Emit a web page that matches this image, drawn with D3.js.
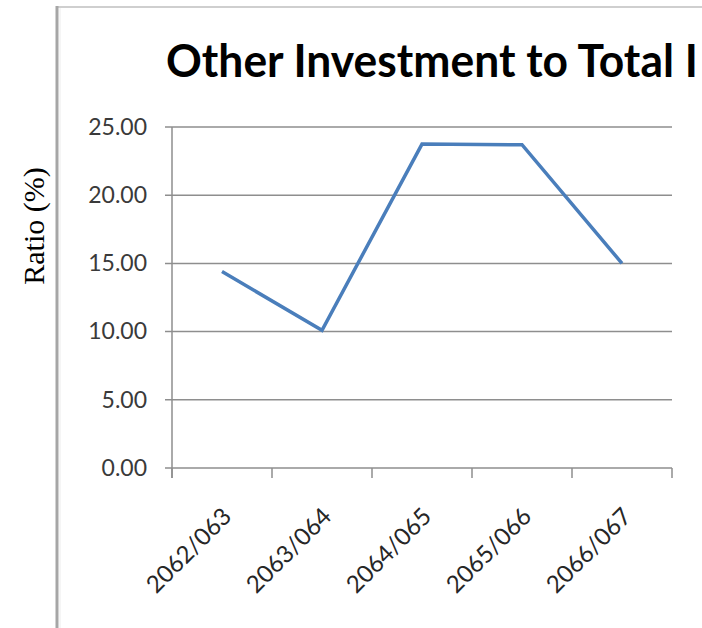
<!DOCTYPE html>
<html>
<head>
<meta charset="utf-8">
<script src="https://cdn.jsdelivr.net/npm/d3@7/dist/d3.min.js"></script>
<style>
  html, body { margin: 0; padding: 0; background: #ffffff; }
  svg { display: block; }
</style>
</head>
<body>
<script>
// Fiscal years (Nepali calendar) and the ratio of other investment to total investment, in percent
const categories = ["2062/063", "2063/064", "2064/065", "2065/066", "2066/067"];
const ratioValues = [14.4, 10.1, 23.75, 23.7, 15.0];
const yTickValues = [0, 5, 10, 15, 20, 25];
const chartTitle = "Other Investment to Total I";
const yAxisTitle = "Ratio (%)";

const W = 702, H = 628;
const plot = { left: 172, right: 672, top: 127, bottom: 468 };

const svg = d3.select("body").append("svg")
  .attr("width", W).attr("height", H);

svg.append("rect").attr("width", W).attr("height", H).attr("fill", "#ffffff");

// frame edges of the chart object
svg.append("line").attr("x1", 56).attr("x2", W).attr("y1", 7).attr("y2", 7)
  .attr("stroke", "#cfcfcf").attr("stroke-width", 2);
svg.append("line").attr("x1", 57).attr("x2", 57).attr("y1", 6).attr("y2", H)
  .attr("stroke", "#a6a6a6").attr("stroke-width", 3);
svg.append("line").attr("x1", 60).attr("x2", 60).attr("y1", 8).attr("y2", H)
  .attr("stroke", "#ececec").attr("stroke-width", 1);

const x = d3.scaleBand().domain(categories).range([plot.left, plot.right]);
const y = d3.scaleLinear().domain([0, 25]).range([plot.bottom, plot.top]);

const gridColor = "#8e8e8e";

// horizontal gridlines with their outside tick stubs
svg.append("g").selectAll("line").data(yTickValues).join("line")
  .attr("x1", plot.left - 7).attr("x2", plot.right)
  .attr("y1", d => y(d)).attr("y2", d => y(d))
  .attr("stroke", gridColor).attr("stroke-width", 1.5);

// y axis
const yAxis = svg.append("g")
  .attr("transform", `translate(${plot.left},0)`)
  .call(d3.axisLeft(y).tickValues(yTickValues).tickSize(7).tickSizeOuter(0)
    .tickPadding(18).tickFormat(d3.format(".2f")));
yAxis.select(".domain").remove();
yAxis.selectAll(".tick line").remove();
yAxis.selectAll(".tick text")
  .attr("fill", "#3a3a3a")
  .style("font-family", "Lato, 'Open Sans', sans-serif")
  .style("font-size", "23px");
svg.append("line").attr("x1", plot.left).attr("x2", plot.left)
  .attr("y1", plot.top).attr("y2", plot.bottom + 10)
  .attr("stroke", gridColor).attr("stroke-width", 1.5);

// x axis: tick marks on category boundaries
const boundaries = categories.map(c => x(c)).concat([x.range()[1]]);
svg.append("g").selectAll("line").data(boundaries).join("line")
  .attr("x1", d => d).attr("x2", d => d)
  .attr("y1", plot.bottom).attr("y2", plot.bottom + 10)
  .attr("stroke", gridColor).attr("stroke-width", 1.5);

svg.append("g").selectAll("text").data(categories).join("text")
  .attr("transform", d => `translate(${x(d) + x.bandwidth() / 2 + 5},${plot.bottom + 44}) rotate(-45)`)
  .attr("text-anchor", "end")
  .attr("dy", "0.35em")
  .attr("fill", "#262626")
  .style("font-family", "Lato, 'Open Sans', sans-serif")
  .style("font-size", "24px")
  .text(d => d);

// data line
const line = d3.line()
  .x((d, i) => x(categories[i]) + x.bandwidth() / 2)
  .y(d => y(d));
svg.append("path").datum(ratioValues)
  .attr("d", line)
  .attr("fill", "none")
  .attr("stroke", "#4a7ebb")
  .attr("stroke-width", 3.5)
  .attr("stroke-linejoin", "miter");

// axis title
svg.append("text")
  .attr("transform", "translate(44,226) rotate(-90)")
  .attr("text-anchor", "middle")
  .attr("fill", "#000000")
  .style("font-family", "'Liberation Serif', 'Times New Roman', serif")
  .style("font-size", "30px")
  .text(yAxisTitle);

// chart title, cut at the right edge of the frame
const title = svg.append("text")
  .attr("x", 0).attr("y", 0)
  .attr("fill", "#000000")
  .style("font-family", "Lato, 'Open Sans', sans-serif")
  .style("font-weight", "bold")
  .style("font-size", "45px")
  .text(chartTitle);
const prefixLen = chartTitle.length - 1;
const prefixWidth = title.node().getSubStringLength(0, prefixLen);
const sx = 519 / prefixWidth;
title.attr("transform", `translate(166,77) scale(${sx},1)`);
</script>
</body>
</html>
